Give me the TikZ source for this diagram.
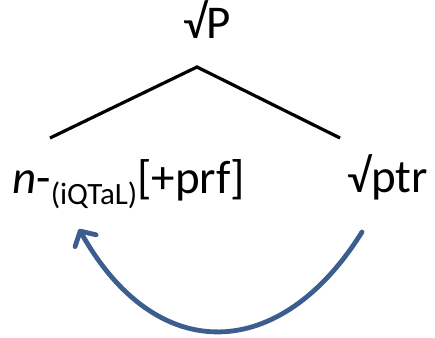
\documentclass[tikz,border=0pt]{standalone}
\usepackage{fontspec}
\setmainfont{Carlito}
\usetikzlibrary{arrows.meta}
\definecolor{arrowblue}{HTML}{3B5E8F}
\begin{document}
\begin{tikzpicture}[x=1pt,y=-1pt,
  lbl/.style={inner sep=0pt,anchor=base,font=\fontsize{47}{52}\selectfont},
  branch/.style={line width=3.2pt,black},
  move/.style={line width=4.8pt,arrowblue,line cap=round,-{Straight Barb[length=11pt,width=24pt,line width=4.8pt,round]}}]
\useasboundingbox (0,0) rectangle (435,337);
\node[lbl] (top) at (207,38) {√P};
\coordinate (apex) at (197,67);
\coordinate (lend) at (50,138);
\coordinate (rend) at (340,138);
\draw[branch] (lend) -- (apex) -- (rend);
\node[lbl,anchor=base west] (left) at (12,193) {\textit{n}-\raisebox{-11pt}{\fontsize{31}{34}\selectfont(iQTaL)}[+prf]};
\node[lbl,anchor=base east] (right) at (428,192) {√ptr};
\coordinate (s) at (362,232);
\coordinate (e) at (79,229);
\draw[move] (s) .. controls (281,362) and (157,368) .. (e);
\end{tikzpicture}
\end{document}
